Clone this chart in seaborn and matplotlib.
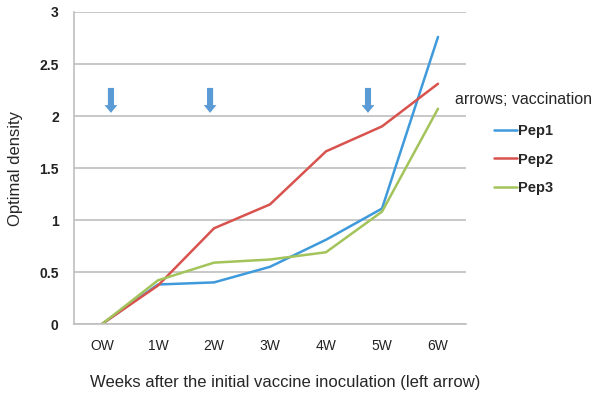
import matplotlib
matplotlib.use("Agg")
import matplotlib.pyplot as plt
import numpy as np
import pandas as pd
import seaborn as sns

# data
weeks = ["OW", "1W", "2W", "3W", "4W", "5W", "6W"]
pep1 = [0.0, 0.38, 0.40, 0.55, 0.81, 1.11, 2.76]
pep2 = [0.0, 0.37, 0.92, 1.15, 1.66, 1.90, 2.31]
pep3 = [0.0, 0.42, 0.59, 0.62, 0.69, 1.08, 2.07]
series = ["Pep1", "Pep2", "Pep3"]
colors = ["#3F9ADB", "#D9534E", "#A3C35B"]
# vaccination arrows (x in category units, top / bottom of arrow)
arrow_x = [0.16, 1.93, 4.75]
arrow_top, arrow_bottom = 2.27, 2.03

df = pd.DataFrame({
    "week": np.tile(np.arange(len(weeks)), 3),
    "od": pep1 + pep2 + pep3,
    "pep": np.repeat(series, len(weeks)),
})

sns.set_style("white")
plt.rcParams["font.family"] = ["Liberation Sans", "DejaVu Sans"]

fig = plt.figure(figsize=(6.03, 3.96), dpi=100)
ax = fig.add_axes([0.1227, 0.1818, 0.6501, 0.7879])

sns.lineplot(data=df, x="week", y="od", hue="pep", palette=colors,
             linewidth=1.8, ax=ax)

for xa in arrow_x:
    ax.annotate("", xy=(xa, arrow_bottom), xytext=(xa, arrow_top),
                arrowprops=dict(arrowstyle="simple,head_width=1.15,head_length=0.7,tail_width=0.55",
                                mutation_scale=8, shrinkA=0, shrinkB=0,
                                color="#5B9BD5", lw=0))

ax.set_xlim(-0.5, 6.5)
ax.set_ylim(0, 3)
ax.set_yticks([0, 0.5, 1, 1.5, 2, 2.5, 3])
ax.set_yticklabels(["0", "0.5", "1", "1.5", "2", "2.5", "3"],
                   fontweight="bold", fontsize=10, color="#222222")
ax.set_xticks(range(len(weeks)))
ax.set_xticklabels(weeks, fontsize=10, color="#222222")
ax.set_xticks(np.arange(-0.5, 7, 1), minor=True)
ax.tick_params(axis="x", which="major", length=0, pad=11)
ax.tick_params(axis="x", which="minor", length=5, color="#BFBFBF", width=1.2)
ax.tick_params(axis="y", length=5, color="#BFBFBF", width=1.2, direction="out", pad=6)
ax.yaxis.grid(True, color="#BFBFBF", linewidth=1.2)
ax.set_axisbelow(True)
for s in ["top", "right"]:
    ax.spines[s].set_visible(False)
for s in ["left", "bottom"]:
    ax.spines[s].set_color("#BFBFBF")
    ax.spines[s].set_linewidth(1.2)

ax.set_xlabel("Weeks after the initial vaccine inoculation (left arrow)", fontsize=12)
ax.xaxis.set_label_coords(0.54, -0.163)
ax.set_ylabel("Optimal density", fontsize=12, labelpad=12)

fig.text(455 / 603, 1 - 100 / 396, "arrows; vaccination", fontsize=11.5,
         ha="left", va="center")
handles, labels = ax.get_legend_handles_labels()
leg = fig.legend(handles, labels, loc="upper left",
                 bbox_to_anchor=(494 / 603, 1 - 124 / 396), frameon=False,
                 prop={"weight": "bold", "size": 10.5}, borderpad=0,
                 borderaxespad=0, handlelength=1.55, handletextpad=0.1,
                 labelspacing=1.0)
ax.get_legend().remove()
for line in leg.get_lines():
    line.set_linewidth(1.8)

fig.savefig("out.png", dpi=100)
